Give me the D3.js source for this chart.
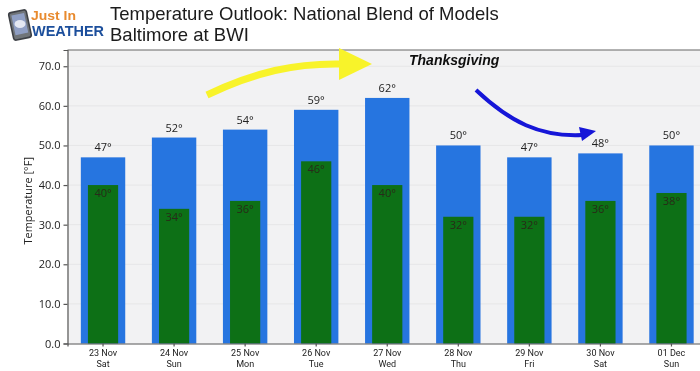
<!DOCTYPE html>
<html>
<head>
<meta charset="utf-8">
<script src="https://d3js.org/d3.v7.min.js"></script>
<style>
  html, body { margin: 0; padding: 0; background: #fff; overflow: hidden; }
  svg { display: block; }
  .tick text { font-family: "Open Sans", sans-serif; fill: #222; }
</style>
</head>
<body>
<script>
(function (d3) {
  "use strict";

  /***** Data *****/
  var dates = ["23 Nov", "24 Nov", "25 Nov", "26 Nov", "27 Nov", "28 Nov", "29 Nov", "30 Nov", "01 Dec"];
  var weekdays = ["Sat", "Sun", "Mon", "Tue", "Wed", "Thu", "Fri", "Sat", "Sun"];
  var highs = [47, 52, 54, 59, 62, 50, 47, 48, 50];
  var lows = [40, 34, 36, 46, 40, 32, 32, 36, 38];
  var yTicks = [0, 10, 20, 30, 40, 50, 60, 70];

  /***** Configuration *****/
  var width = 700, height = 371;
  var margin = { top: 50, right: -7, bottom: 27.5, left: 67.5 };
  var plotWidth = width - margin.left - margin.right;
  var plotHeight = height - margin.top - margin.bottom;

  /***** Scales *****/
  var xScale = d3.scaleBand().domain(dates).range([0, plotWidth]).paddingInner(0.375).paddingOuter(0.1875);
  var yScale = d3.scaleLinear().domain([0, 74.1]).range([plotHeight, 0]);
  var lowWidth = xScale.bandwidth() * 0.68;

  var svg = d3.select("body").append("svg").attr("width", width).attr("height", height);

  var defs = svg.append("defs");
  var blur = defs.append("filter").attr("id", "soft");
  blur.append("feGaussianBlur").attr("stdDeviation", 0.35);

  var page = svg.append("g").attr("filter", "url(#soft)");

  /***** Titles *****/
  page.selectAll("text.title")
    .data(["Temperature Outlook: National Blend of Models", "Baltimore at BWI"])
    .enter().append("text")
    .attr("class", "title")
    .attr("x", 110)
    .attr("y", function (d, i) { return 20 + i * 21; })
    .attr("font-family", "Liberation Sans, Arial, sans-serif")
    .attr("font-size", 18.5)
    .attr("fill", "#1a1a1a")
    .text(function (d) { return d; });

  /***** Logo *****/
  var logo = page.append("g");
  logo.append("rect").attr("x", 11).attr("y", 11).attr("width", 18).attr("height", 28)
    .attr("rx", 2.5).attr("transform", "rotate(-12 20 25)")
    .attr("fill", "#6f7479").attr("stroke", "#3d4045").attr("stroke-width", 1.6);
  logo.append("rect").attr("x", 13.5).attr("y", 14).attr("width", 13).attr("height", 20)
    .attr("transform", "rotate(-12 20 25)").attr("fill", "#8f9fc4");
  logo.append("ellipse").attr("cx", 20).attr("cy", 24).attr("rx", 5.5).attr("ry", 4).attr("fill", "#e4e8f2");
  logo.append("text").attr("x", 31).attr("y", 19.5)
    .attr("font-family", "Liberation Sans, Arial, sans-serif").attr("font-weight", "bold").attr("font-size", 13.5)
    .attr("fill", "#e88a2e").attr("textLength", 45).attr("lengthAdjust", "spacingAndGlyphs").text("Just In");
  logo.append("text").attr("x", 32).attr("y", 35.5)
    .attr("font-family", "Liberation Sans, Arial, sans-serif").attr("font-weight", "bold").attr("font-size", 14.5)
    .attr("fill", "#1c4f9c").attr("textLength", 72).attr("lengthAdjust", "spacingAndGlyphs").text("WEATHER");

  /***** Plot *****/
  var plot = page.append("g").attr("transform", "translate(" + margin.left + "," + margin.top + ")");

  plot.append("rect").attr("width", plotWidth).attr("height", plotHeight).attr("fill", "#f2f2f3");

  plot.selectAll("line.grid")
    .data(yTicks.slice(1))
    .enter().append("line")
    .attr("class", "grid")
    .attr("x1", 0).attr("x2", plotWidth)
    .attr("y1", function (d) { return yScale(d); })
    .attr("y2", function (d) { return yScale(d); })
    .attr("stroke", "#e6e6e7").attr("stroke-width", 1);

  plot.selectAll("rect.high")
    .data(highs)
    .enter().append("rect")
    .attr("class", "high")
    .attr("x", function (d, i) { return xScale(dates[i]); })
    .attr("y", function (d) { return yScale(d); })
    .attr("width", xScale.bandwidth())
    .attr("height", function (d) { return plotHeight - yScale(d); })
    .attr("fill", "#2874e0");

  plot.selectAll("rect.low")
    .data(lows)
    .enter().append("rect")
    .attr("class", "low")
    .attr("x", function (d, i) { return xScale(dates[i]) + (xScale.bandwidth() - lowWidth) / 2; })
    .attr("y", function (d) { return yScale(d); })
    .attr("width", lowWidth)
    .attr("height", function (d) { return plotHeight - yScale(d); })
    .attr("fill", "#0b7016");

  plot.selectAll("text.high-label")
    .data(highs)
    .enter().append("text")
    .attr("class", "high-label")
    .attr("x", function (d, i) { return xScale(dates[i]) + xScale.bandwidth() / 2; })
    .attr("y", function (d) { return yScale(d) - 6; })
    .attr("text-anchor", "middle")
    .attr("font-family", "Open Sans, sans-serif").attr("font-size", 11).attr("fill", "#222")
    .text(function (d) { return d + "°"; });

  plot.selectAll("text.low-label")
    .data(lows)
    .enter().append("text")
    .attr("class", "low-label")
    .attr("x", function (d, i) { return xScale(dates[i]) + xScale.bandwidth() / 2; })
    .attr("y", function (d) { return yScale(d) + 12; })
    .attr("text-anchor", "middle")
    .attr("font-family", "Open Sans, sans-serif").attr("font-size", 11).attr("fill", "#2a2a1a")
    .text(function (d) { return d + "°"; });

  /***** Axes *****/
  var yAxis = d3.axisLeft(yScale).tickValues(yTicks).tickFormat(d3.format(".1f")).tickSize(4).tickPadding(3);
  var yGroup = plot.append("g").call(yAxis);
  yGroup.selectAll("text").attr("font-size", 11);
  yGroup.selectAll("line, path").attr("stroke", "#555").attr("stroke-width", 1.2);

  var xAxis = d3.axisBottom(xScale).tickSize(3).tickPadding(3).tickFormat(function () { return ""; });
  var xGroup = plot.append("g").attr("transform", "translate(0," + plotHeight + ")").call(xAxis);
  xGroup.selectAll("line, path").attr("stroke", "#555").attr("stroke-width", 1.2);
  xGroup.selectAll(".tick text").each(function (d, i) {
    var label = d3.select(this).style("font-family", "Roboto, sans-serif").attr("font-size", 9).attr("fill", "#222");
    label.append("tspan").attr("x", 0).attr("dy", "0.71em").text(dates[i]);
    label.append("tspan").attr("x", 0).attr("dy", "1.2em").text(weekdays[i]);
  });

  plot.append("line").attr("x1", 0).attr("x2", plotWidth).attr("y1", 0).attr("y2", 0)
    .attr("stroke", "#666").attr("stroke-width", 1.2);

  plot.append("text")
    .attr("transform", "translate(-36," + (plotHeight / 2 + 4) + ") rotate(-90)")
    .attr("text-anchor", "middle")
    .attr("font-family", "Open Sans, sans-serif").attr("font-size", 11).attr("fill", "#222")
    .text("Temperature [°F]");

  /***** Annotations *****/
  page.append("text").attr("x", 409).attr("y", 65)
    .attr("font-family", "Liberation Sans, Arial, sans-serif")
    .attr("font-size", 14).attr("font-weight", "bold").attr("font-style", "italic")
    .attr("fill", "#111").text("Thanksgiving");

  page.append("path").attr("d", "M207,95 C255,72 295,63 342,64")
    .attr("fill", "none").attr("stroke", "#f8f32b").attr("stroke-width", 7);
  page.append("path").attr("d", "M339,48 L372,64 L339,80 Z").attr("fill", "#f8f32b");

  page.append("path").attr("d", "M476,90 C510,122 540,137 582,135")
    .attr("fill", "none").attr("stroke", "#1414d8").attr("stroke-width", 4);
  page.append("path").attr("d", "M579,127 L596,131 L582,141 Z").attr("fill", "#1414d8");

})(d3);
</script>
</body>
</html>
